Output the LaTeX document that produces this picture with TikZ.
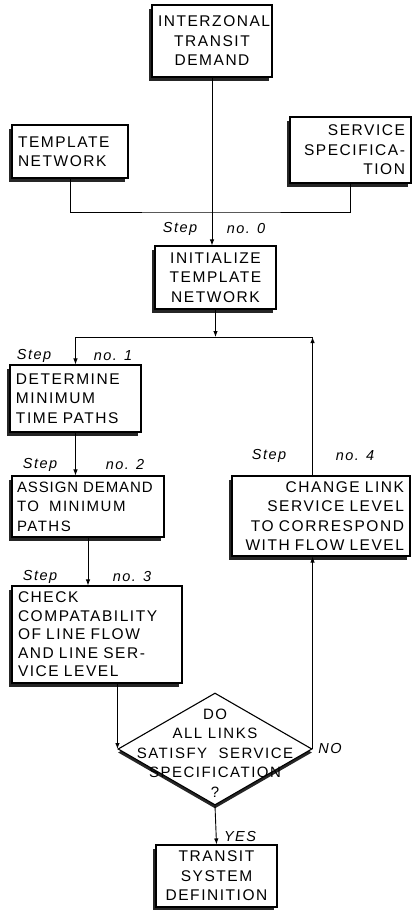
\documentclass[tikz,border=0pt]{standalone}
\usepackage{fontspec}
\setmainfont{Liberation Sans}[LetterSpace=10]
\usetikzlibrary{shapes.geometric,arrows.meta,shadows}

\begin{document}
\begin{tikzpicture} [
                x=1pt, y=-1pt,
                box/.style={draw, line width=1.1pt, fill=white, inner xsep=6pt, inner ysep=2pt,
                    font=\fontsize{15.5}{19.5}\selectfont,
                    drop shadow={shadow xshift=-3.5pt, shadow yshift=-3.5pt, fill=black!85, opacity=1}},
                decision/.style={diamond, draw, line width=1.1pt, fill=white, inner sep=0pt,
                    minimum width=194pt, minimum height=112pt,
                    drop shadow={shadow xshift=0pt, shadow yshift=-3.5pt, fill=black!85, opacity=1}},
                steptext/.style={font=\fontsize{14.5}{16}\selectfont\itshape, inner sep=0pt},
                link/.style={draw, line width=0.9pt},
                arrow/.style={link, -{Latex[length=6pt,width=4.5pt]}},
            ]
            \useasboundingbox (0,0) rectangle (412,910);
            % First we draw the boxes
            \node[box, minimum width=120pt, minimum height=72pt, text width=108pt, align=center] (demand) at (212,41) {INTERZONAL\\TRANSIT\\DEMAND};
            \node[box, minimum width=116pt, minimum height=53pt, text width=104pt, align=left] (template) at (70,151.5) {TEMPLATE\\NETWORK};
            \node[box, minimum width=121pt, minimum height=66pt, text width=109pt, align=right] (service) at (350.5,150) {SERVICE\\SPECIFICA-\\TION};
            \node[box, minimum width=121pt, minimum height=63pt, text width=109pt, align=center] (init) at (215.5,277.5) {INITIALIZE\\TEMPLATE\\NETWORK};
            \node[box, minimum width=131pt, minimum height=67pt, text width=119pt, align=left] (determine) at (75.5,398.5) {DETERMINE\\MINIMUM\\TIME PATHS};
            \node[box, minimum width=152pt, minimum height=61pt, inner xsep=5pt, text width=142pt, align=left, font=\fontsize{15}{19.5}\selectfont] (assign) at (88,506.5) {\mbox{\addfontfeatures{LetterSpace=6}ASSIGN DEMAND}\\TO\ \ MINIMUM\\PATHS};
            \node[box, minimum width=170pt, minimum height=97pt, text width=158pt, align=left, font=\fontsize{15.5}{18.5}\selectfont] (check) at (97,634.5) {CHECK\\COMPATABILITY\\OF LINE FLOW\\AND LINE SER-\\VICE LEVEL};
            \node[box, minimum width=178pt, minimum height=80pt, text width=166pt, align=right] (change) at (321,516) {CHANGE LINK\\SERVICE LEVEL\\TO CORRESPOND\\WITH FLOW LEVEL};
            \node[box, minimum width=121pt, minimum height=62pt, text width=109pt, align=center] (transit) at (216.5,876) {TRANSIT\\SYSTEM\\DEFINITION};
            % the test
            \node[decision] (test) at (215,749) {};
            \node[font=\fontsize{15}{19.5}\selectfont, align=center, inner sep=0pt] (testtext) at (215,753) {DO\\ALL LINKS\\SATISFY\ \ SERVICE\\SPECIFICATION\\?};
            % Step labels
            \foreach \spos/\npos/\name/\num in {
                    {(180,229)/(246,229)/zero/0}, {(34,356)/(113,356)/one/1},
                    {(40,465)/(125,465)/two/2}, {(40,577)/(132,577)/three/3},
                    {(269,456)/(355,456)/four/4}}
                {
                \node[steptext] (step\name) at \spos {Step};
                \node[steptext] (no\name) at \npos {no. \num};
                }
            \node[steptext] (nolabel) at (330,748) {NO};
            \node[steptext] (yeslabel) at (240,836) {YES};
            % Connect the boxes
            \coordinate (join0) at (demand.south |- 0,212);
            \coordinate (join1) at (init.south |- 0,337);
            \coordinate (loop) at (test.east |- join1);
            \path[arrow] (demand.south) -- (demand.south |- init.north);
            \path[link] (template.south) |- (join0) -| (service.south);
            \path[arrow] (init.south) -- (join1);
            \path[arrow] (join1) -| (determine.north);
            \path[link] (join1) -- (loop);
            \path[arrow] (change.north -| loop) -- (loop);
            \path[arrow] (determine.south) -- (determine.south |- assign.north);
            \path[arrow] (assign.south) -- (assign.south |- check.north);
            \path[arrow] (check.south -| test.west) -- (test.west);
            \path[arrow] (test.east) -- (test.east |- change.south);
            \path[arrow] (test.south) -- (transit.north);
        \end{tikzpicture}
\end{document}
